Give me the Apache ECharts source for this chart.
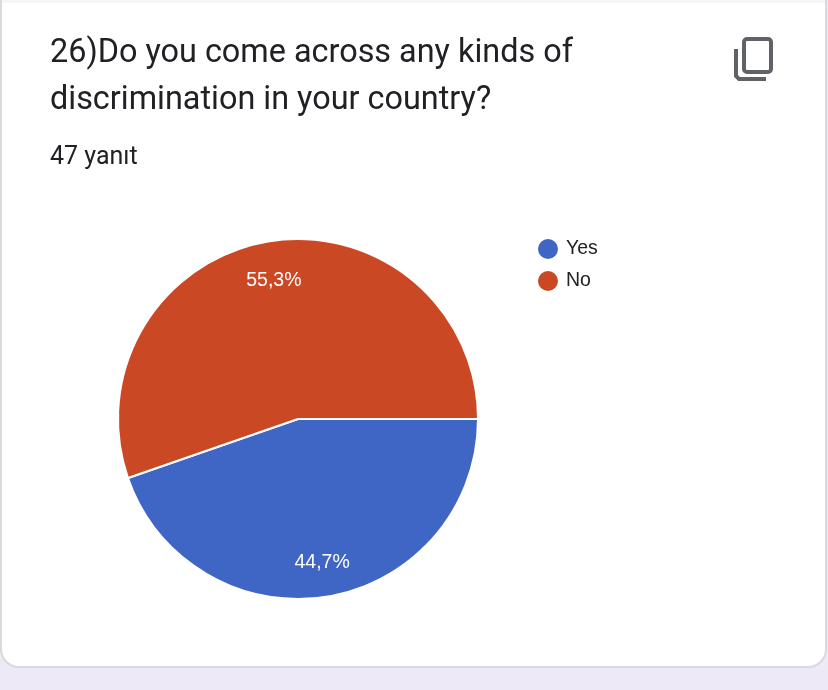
<!DOCTYPE html>
<html>
<head>
<meta charset="utf-8">
<style>
html, body { margin: 0; padding: 0; background: #ede9f6; }
#chart { width: 828px; height: 690px; }
</style>
<script src="https://cdn.jsdelivr.net/npm/echarts@6/dist/echarts.min.js"></script>
</head>
<body>
<div id="chart"></div>
<script>
var categories = ['Yes', 'No'];
var responses = [21, 26];
var percentLabels = ['44,7%', '55,3%'];
var colors = ['#3f65c5', '#cb4825'];
var titleLines = ['26)Do you come across any kinds of', 'discrimination in your country?'];
var subtitle = '47 yanıt';

var myChart = echarts.init(document.getElementById('chart'));
myChart.setOption({
    animation: false,
    backgroundColor: '#ede9f6',
    title: [
        { text: titleLines[0], left: 50, top: 38, textStyle: { fontFamily: 'Roboto', fontSize: 32.4, fontWeight: 400, color: '#202124' }, padding: 0 },
        { text: titleLines[1], left: 50, top: 85, textStyle: { fontFamily: 'Roboto', fontSize: 32.4, fontWeight: 400, color: '#202124' }, padding: 0 },
        { text: subtitle, left: 50, top: 145, textStyle: { fontFamily: 'Roboto', fontSize: 25, fontWeight: 400, color: '#202124' }, padding: 0 }
    ],
    legend: {
        orient: 'vertical',
        left: 538,
        top: 235,
        data: categories,
        icon: 'circle',
        itemWidth: 20,
        itemHeight: 20,
        itemGap: 4,
        padding: 0,
        selectedMode: false,
        itemStyle: { borderWidth: 0 },
        textStyle: { fontFamily: 'Liberation Sans', fontSize: 19.5, lineHeight: 20, color: '#222222', padding: [8, 0, 0, 3] }
    },
    graphic: [
        // card behind the chart
        { type: 'rect', z: -10, shape: { x: 1, y: -20, width: 825, height: 687, r: 18 },
          style: { fill: '#ffffff', stroke: '#d9d9de', lineWidth: 2 } },
        { type: 'rect', z: -9, shape: { x: 2, y: 0, width: 823, height: 3 },
          style: { fill: '#f6f6f7' } },
        // copy icon
        { type: 'rect', z: 5, shape: { x: 744, y: 39, width: 27, height: 33, r: 3 },
          style: { fill: 'none', stroke: '#5f6368', lineWidth: 4 } },
        { type: 'polyline', z: 5, shape: { points: [[736, 49], [736, 76], [739, 79], [766, 79]] },
          style: { fill: 'none', stroke: '#5f6368', lineWidth: 4 } }
    ],
    series: [
        {
            type: 'pie',
            name: 'slices',
            center: [298, 419],
            radius: [0, 180],
            startAngle: 0,
            clockwise: true,
            data: categories.map(function (name, i) {
                return { name: name, value: responses[i], itemStyle: { color: colors[i] } };
            }),
            label: { show: false },
            labelLine: { show: false },
            silent: true,
            itemStyle: { borderColor: '#ffffff', borderWidth: 2 }
        },
        {
            // transparent ring, only here to put the percent labels near the rim
            type: 'pie',
            name: 'labels',
            center: [298, 419],
            radius: [104, 180],
            startAngle: 0,
            clockwise: true,
            data: categories.map(function (name, i) {
                return { name: name, value: responses[i], itemStyle: { color: 'transparent' } };
            }),
            silent: true,
            legendHoverLink: false,
            label: {
                show: true,
                position: 'inside',
                fontFamily: 'Liberation Sans',
                fontSize: 19.5,
                color: '#ffffff',
                formatter: function (p) { return percentLabels[p.dataIndex]; }
            },
            labelLayout: function (p) {
                return { dy: p.dataIndex === 1 ? 5 : 1 };
            },
            labelLine: { show: false }
        }
    ]
});
</script>
</body>
</html>
